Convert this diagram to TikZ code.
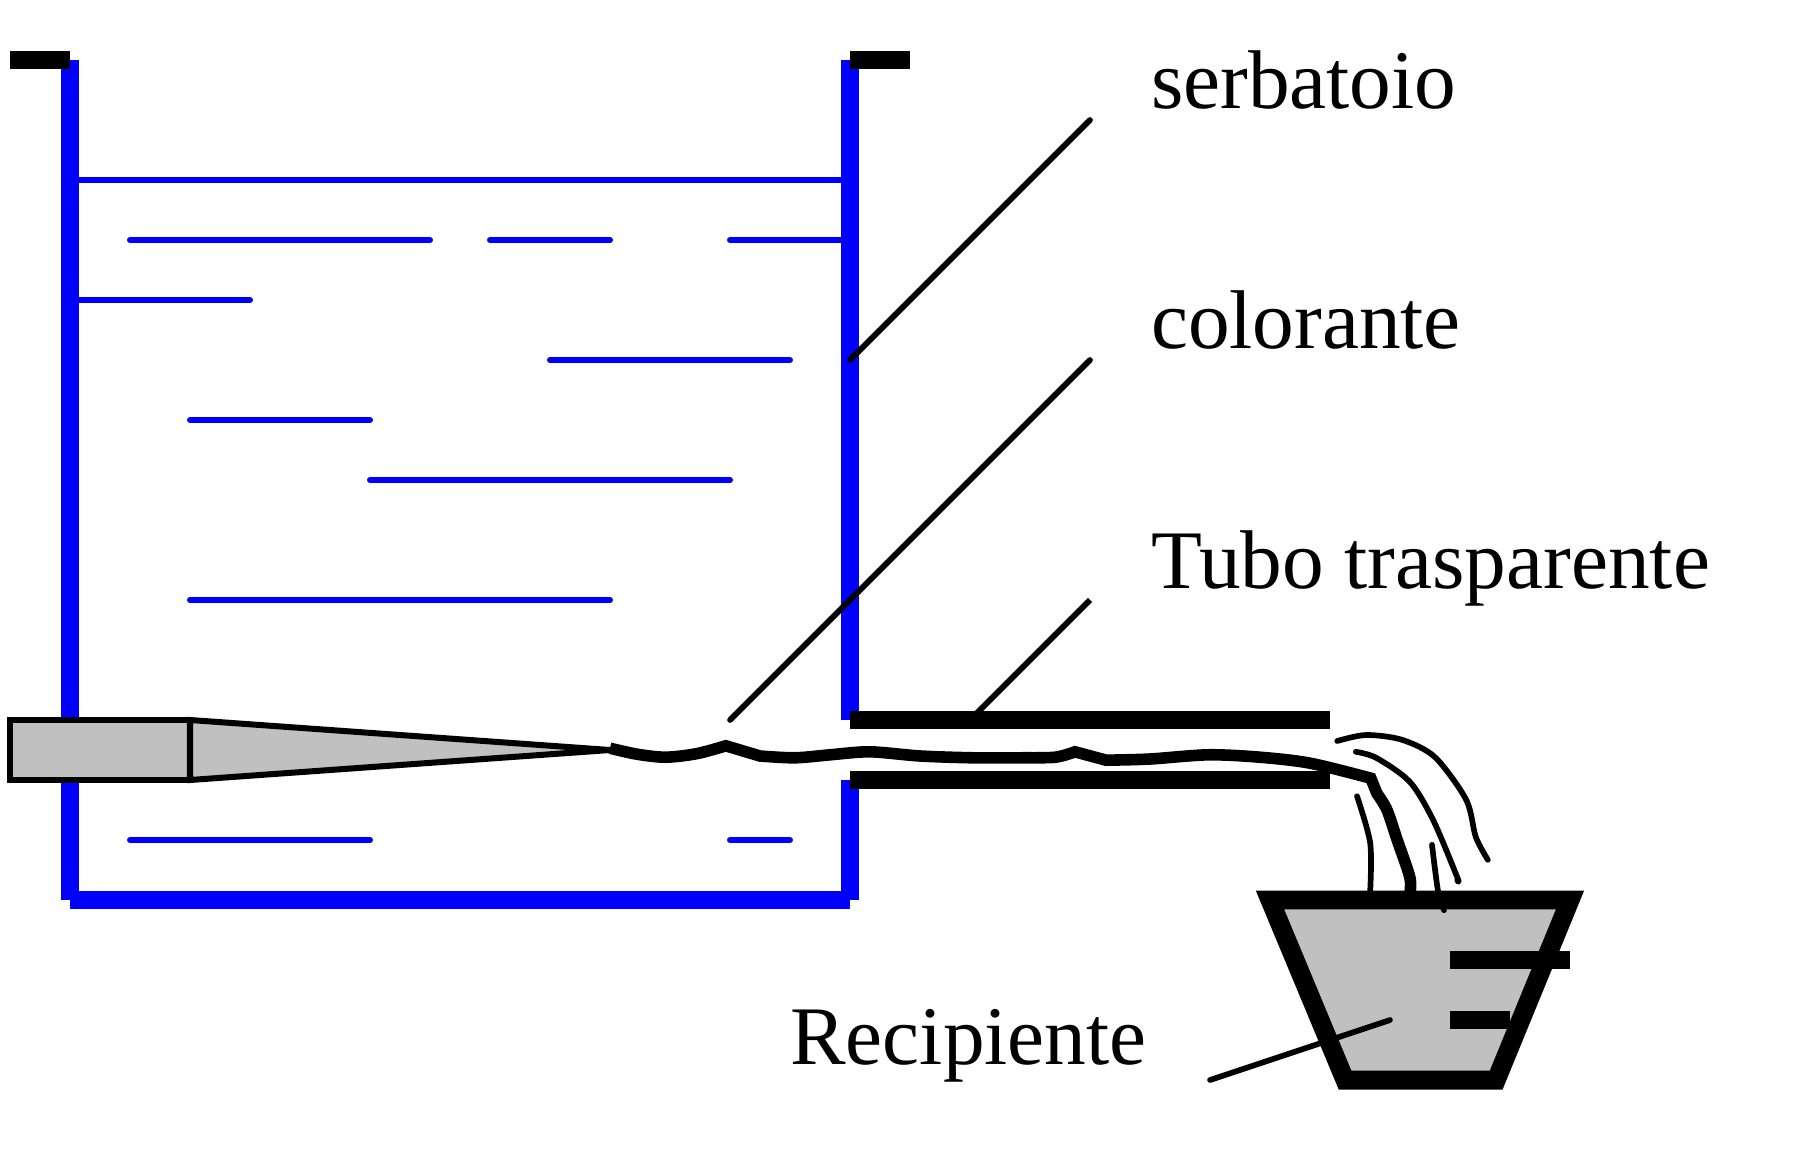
\documentclass[tikz,border=0pt]{standalone}
\usepackage{fontspec}
\setmainfont{Liberation Serif}
\usetikzlibrary{positioning}
\definecolor{grigio}{HTML}{C0C0C0}
\tikzset{
    wall/.style={line width=9pt, blue},
    water/.style={line width=2.85pt, blue, line cap=round},
    bar/.style={line width=9pt, black},
    leader/.style={line width=2.7pt, black, line cap=round},
    flow/.style={line width=5.5pt, black, line join=miter},
    stream/.style={line width=2.7pt, black, line cap=round, line join=round},
    scritta/.style={inner sep=0pt, anchor=base west, font=\fontsize{39.5}{42}\selectfont}
}

\begin{document}
\begin{tikzpicture}
    \useasboundingbox (-0.1667,0) rectangle (30.0667,-19.3167);
    % Tank
    \draw[wall] (1,-1) -- (1,-15);
    \draw[wall] (14,-1) -- (14,-12);
    \draw[wall] (14,-13) -- (14,-15);
    \draw[wall] (1,-15) -- (14,-15);
    % Water
    \draw[water, line cap=butt] (1,-3) -- (14,-3);
    \draw[water] (2,-4) -- (7,-4);
    \draw[water] (8,-4) -- (10,-4);
    \draw[water] (12,-4) -- (14,-4);
    \draw[water] (1,-5) -- (4,-5);
    \draw[water] (9,-6) -- (13,-6);
    \draw[water] (3,-7) -- (6,-7);
    \draw[water] (6,-8) -- (12,-8);
    \draw[water] (3,-10) -- (10,-10);
    \draw[water] (2,-14) -- (6,-14);
    \draw[water] (12,-14) -- (13,-14);
    % Rims
    \draw[bar] (0,-1) -- (1,-1);
    \draw[bar] (14,-1) -- (15,-1);
    % Injector
    \draw[line width=2.85pt, fill=grigio] (0,-12) rectangle (3,-13);
    \draw[line width=2.85pt, fill=grigio] (3,-12) -- (10,-12.5) -- (3,-13) -- cycle;
    % Transparent tube
    \draw[bar] (14,-12) -- (22,-12);
    \draw[bar] (14,-13) -- (22,-13);
    % Dye thread
    \draw[flow] plot[smooth] coordinates {(10,-12.47) (10.45,-12.57) (10.93,-12.62) (11.45,-12.56) (11.93,-12.43)}
        -- plot[smooth] coordinates {(12.5,-12.6) (13.08,-12.63) (13.67,-12.58) (14.33,-12.53) (15.17,-12.6) (16.05,-12.63) (16.83,-12.63) (17.42,-12.62) (17.75,-12.53)}
        -- plot[smooth] coordinates {(18.27,-12.67) (19,-12.65) (19.97,-12.58) (20.83,-12.62) (21.67,-12.72) (22.68,-12.97)}
        -- plot[smooth] coordinates {(22.78,-13.22) (22.95,-13.5) (23.12,-14) (23.33,-14.62) (23.33,-14.9)};
    % Container
    \draw[line width=9pt, fill=grigio] (21,-15) -- (26,-15) -- (24.77,-18) -- (22.25,-18) -- cycle;
    \draw[bar] (24,-16) -- (26,-16);
    \draw[bar] (24,-17) -- (25,-17);
    % Loose streams
    \draw[stream] plot[smooth] coordinates {(22.45,-13.27) (22.67,-14.05) (22.67,-14.85)};
    \draw[stream] plot[smooth] coordinates {(23.7,-14.08) (23.8,-14.85) (23.9,-15.17)};
    \draw[stream] plot[smooth] coordinates {(22.43,-12.53) (22.77,-12.63) (23.33,-13.03) (23.72,-13.67) (24.12,-14.62) (24.12,-14.67)};
    \draw[stream] plot[smooth] coordinates {(22.12,-12.35) (22.6,-12.25) (23.2,-12.33) (23.75,-12.62) (24.27,-13.33) (24.43,-13.95) (24.63,-14.33)};
    % Labels
    \node[scritta] (serbatoio) at (19.01,-1.8) {serbatoio};
    \node[scritta] (colorante) at (19.01,-5.8) {colorante};
    \node[scritta] (tubo) at (19.01,-9.8) {Tubo trasparente};
    \node[scritta] (recipiente) at (13,-17.74) {Recipiente};
    % Leaders
    \coordinate (serbatoioA) at (18,-2);
    \coordinate (serbatoioB) at (14,-6);
    \coordinate (coloranteA) at (18,-6);
    \coordinate (coloranteB) at (12,-12);
    \coordinate (tuboA) at (18,-10);
    \coordinate (tuboB) at (16,-12);
    \coordinate (recipienteA) at (20,-18);
    \coordinate (recipienteB) at (23,-17);
    \draw[leader] (serbatoioA) -- (serbatoioB);
    \draw[leader] (coloranteA) -- (coloranteB);
    \draw[leader, line cap=butt] (tuboA) -- (tuboB);
    \draw[leader] (recipienteA) -- (recipienteB);
\end{tikzpicture}
\end{document}
